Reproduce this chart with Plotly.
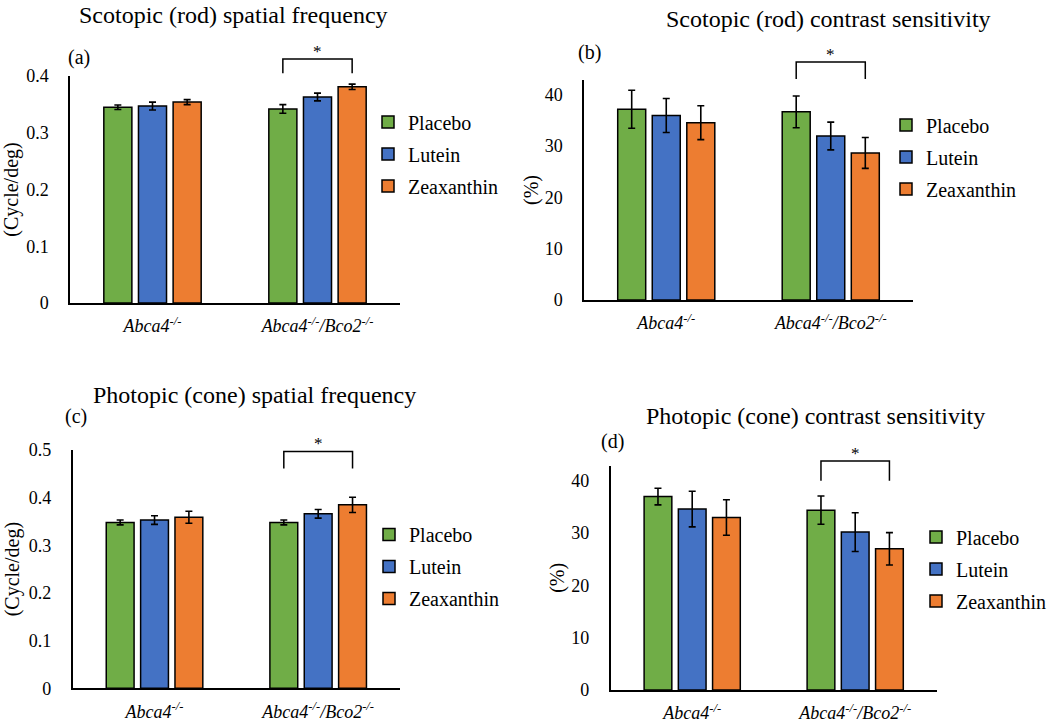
import plotly.graph_objects as go

W, H = 1050, 727

# ---------------- data ----------------
series = ["Placebo", "Lutein", "Zeaxanthin"]
colors = {"Placebo": "#70AD47", "Lutein": "#4472C4", "Zeaxanthin": "#ED7D31"}
groups = ["Abca4", "Abca4/Bco2"]
group_labels = ["<i>Abca4<sup>-/-</sup></i>", "<i>Abca4<sup>-/-</sup>/Bco2<sup>-/-</sup></i>"]

# (a) Scotopic (rod) spatial frequency, cycle/deg
a_mean = {"Placebo": [0.345, 0.342], "Lutein": [0.347, 0.363], "Zeaxanthin": [0.354, 0.381]}
a_err = {"Placebo": [0.004, 0.0076], "Lutein": [0.007, 0.0068], "Zeaxanthin": [0.0044, 0.0047]}
# (b) Scotopic (rod) contrast sensitivity, %
b_mean = {"Placebo": [37.1, 36.6], "Lutein": [35.9, 31.9], "Zeaxanthin": [34.5, 28.6]}
b_err = {"Placebo": [3.7, 3.1], "Lutein": [3.3, 2.7], "Zeaxanthin": [3.3, 3.0]}
# (c) Photopic (cone) spatial frequency, cycle/deg
c_mean = {"Placebo": [0.348, 0.348], "Lutein": [0.353, 0.366], "Zeaxanthin": [0.359, 0.385]}
c_err = {"Placebo": [0.005, 0.005], "Lutein": [0.009, 0.009], "Zeaxanthin": [0.0126, 0.016]}
# (d) Photopic (cone) contrast sensitivity, %
d_mean = {"Placebo": [37.0, 34.4], "Lutein": [34.6, 30.2], "Zeaxanthin": [33.0, 27.0]}
d_err = {"Placebo": [1.6, 2.7], "Lutein": [3.4, 3.7], "Zeaxanthin": [3.4, 3.1]}

titles = ["Scotopic (rod) spatial frequency", "Scotopic (rod) contrast sensitivity",
          "Photopic (cone) spatial frequency", "Photopic (cone) contrast sensitivity"]
panel_tags = ["(a)", "(b)", "(c)", "(d)"]
y_titles = ["(Cycle/deg)", "(%)", "(Cycle/deg)", "(%)"]
y_ticks = [[0, 0.1, 0.2, 0.3, 0.4], [0, 10, 20, 30, 40],
           [0, 0.1, 0.2, 0.3, 0.4, 0.5], [0, 10, 20, 30, 40]]
y_ticktext = [["0", "0.1", "0.2", "0.3", "0.4"], ["0", "10", "20", "30", "40"],
              ["0", "0.1", "0.2", "0.3", "0.4", "0.5"], ["0", "10", "20", "30", "40"]]
y_max = [0.4, 42.8, 0.5, 42.9]
# significance bracket (data units): leg bottom, top
bracket = [(0.405, 0.430), (43.0, 46.3), (0.461, 0.497), (40.0, 43.8)]

panels = [(a_mean, a_err), (b_mean, b_err), (c_mean, c_err), (d_mean, d_err)]

# ---------------- layout geometry (pixels) ----------------
def X(px):
    return px / W

def Y(py):
    return 1 - py / H

dom = [  # left, right, top, bottom (px)
    (70, 400, 76, 303),
    (584, 913, 80, 300),
    (72.7, 400, 450, 688.3),
    (610.7, 936.7, 465.7, 690),
]
title_pos = [(233, 15), (828, 19), (254, 395), (815, 416)]
tag_pos = [(79, 57), (589, 52), (75.5, 416.7), (612, 441.7)]
legend_pos = [(368, 154), (886, 157), (369, 566.5), (916, 569)]
ytitle_standoff = [4, 1, 4, 1]

BARGAP = 0.37
BARGROUPGAP = 0.19
FONT = "Liberation Serif, Times New Roman, serif"

fig = go.Figure()
layout = dict(
    width=W, height=H, margin=dict(l=0, r=0, t=0, b=0, autoexpand=False),
    plot_bgcolor="white", paper_bgcolor="white",
    font=dict(family=FONT, size=18, color="black"),
    barmode="group", bargap=BARGAP, bargroupgap=BARGROUPGAP,
    showlegend=True,
)
annotations = []
shapes = []

for i, ((mean, err), dm) in enumerate(zip(panels, dom)):
    n = "" if i == 0 else str(i + 1)
    xa, ya = "x" + n, "y" + n
    leg = "legend" + n
    for s in series:
        fig.add_trace(go.Bar(
            x=groups, y=mean[s], name=s,
            marker=dict(color=colors[s], line=dict(color="black", width=1.5)),
            error_y=dict(type="data", array=err[s], color="black", thickness=1.6, width=3.5),
            xaxis=xa, yaxis=ya, legend=leg, legendgroup=f"{i}-{s}",
        ))
    l, r, t, b = dm
    layout["xaxis" + n] = dict(
        domain=[X(l), X(r)], anchor=ya, showline=True, linecolor="black", linewidth=1.5,
        showgrid=False, zeroline=False, ticks="", tickmode="array",
        tickvals=groups, ticktext=group_labels, tickfont=dict(size=18),
        ticklabelstandoff=6, fixedrange=True,
    )
    layout["yaxis" + n] = dict(
        domain=[Y(b), Y(t)], anchor=xa, range=[0, y_max[i]], showline=True,
        linecolor="black", linewidth=1.5, showgrid=False, zeroline=False, ticks="",
        tickmode="array", tickvals=y_ticks[i], ticktext=y_ticktext[i],
        tickfont=dict(size=18), ticklabelstandoff=16,
        title=dict(text=y_titles[i], font=dict(size=20), standoff=ytitle_standoff[i]),
        fixedrange=True,
    )
    lx, ly = legend_pos[i]
    layout[leg] = dict(
        x=X(lx), y=Y(ly), xanchor="left", yanchor="middle", xref="paper", yref="paper",
        font=dict(size=20), tracegroupgap=3, bgcolor="rgba(0,0,0,0)",
    )
    # titles & panel tags
    tx, ty = title_pos[i]
    annotations.append(dict(text=titles[i], x=X(tx), y=Y(ty), xref="paper", yref="paper",
                            showarrow=False, xanchor="center", yanchor="middle",
                            font=dict(size=24)))
    gx, gy = tag_pos[i]
    annotations.append(dict(text=panel_tags[i], x=X(gx), y=Y(gy), xref="paper", yref="paper",
                            showarrow=False, xanchor="center", yanchor="middle",
                            font=dict(size=20)))
    # significance bracket between Placebo and Zeaxanthin of the second group
    slot = (1 - BARGAP) / 3
    x0, x1 = 1 - slot, 1 + slot
    yb, yt = bracket[i]
    yb_d, yt_d = yb / y_max[i], yt / y_max[i]
    shapes.append(dict(type="path", xref=xa, yref=ya + " domain",
                       path=f"M{x0},{yb_d} L{x0},{yt_d} L{x1},{yt_d} L{x1},{yb_d}",
                       line=dict(color="black", width=1.5)))
    annotations.append(dict(text="*", x=(x0 + x1) / 2, y=yt_d, xref=xa, yref=ya + " domain",
                            showarrow=False, xanchor="center", yanchor="bottom", yshift=-4,
                            font=dict(size=17)))

layout["annotations"] = annotations
layout["shapes"] = shapes
fig.update_layout(**layout)

fig.write_html("out.html", config={"displayModeBar": False},
               post_script="document.body.style.margin='0';")
